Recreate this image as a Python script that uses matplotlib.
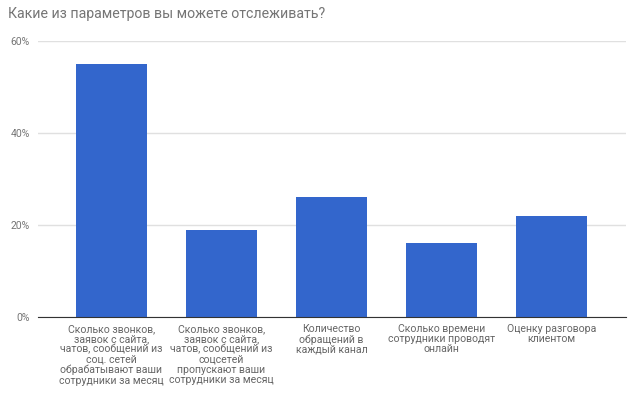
import matplotlib
matplotlib.use("Agg")
import matplotlib.pyplot as plt

plt.rcParams['font.family'] = ['Roboto', 'DejaVu Sans']

categories = [
    "Сколько звонков,\nзаявок с сайта,\nчатов, сообщений из\nсоц. сетей\nобрабатывают ваши\nсотрудники за месяц",
    "Сколько звонков,\nзаявок с сайта,\nчатов, сообщений из\nсоцсетей\nпропускают ваши\nсотрудники за месяц",
    "Количество\nобращений в\nкаждый канал",
    "Сколько времени\nсотрудники проводят\nонлайн",
    "Оценку разговора\nклиентом",
]
values = [55, 19, 26, 16, 22]
yticks = [0, 20, 40, 60]
ytick_labels = ["0%", "20%", "40%", "60%"]

fig = plt.figure(figsize=(6.4, 3.95), dpi=100)
ax = fig.add_axes([38 / 640, 1 - 317 / 395, (626 - 38) / 640, (317 - 41) / 395])

x = range(len(values))
ax.bar(x, values, width=0.645, color="#3366cc", zorder=3)

ax.set_xlim(-0.668, 4.677)
ax.set_ylim(0, 60)
ax.set_yticks(yticks)
ax.set_yticklabels(ytick_labels)
ax.set_xticks(list(x))
ax.set_xticklabels(categories, linespacing=1.02)

ax.grid(axis="y", color="#e0e0e0", linewidth=1, zorder=0)
for s in ["top", "right", "left"]:
    ax.spines[s].set_visible(False)
ax.spines["bottom"].set_color("#333333")
ax.spines["bottom"].set_zorder(4)
ax.tick_params(axis="both", length=0, labelsize=7.5, colors="#757575")
ax.tick_params(axis="x", pad=5, labelsize=7.6, colors="#666666")
ax.tick_params(axis="y", pad=6)

fig.text(8 / 640, 1 - 14 / 395, "Какие из параметров вы можете отслеживать?",
         fontsize=10.2, color="#757575", va="center", ha="left")

fig.savefig("out.png", dpi=100)
